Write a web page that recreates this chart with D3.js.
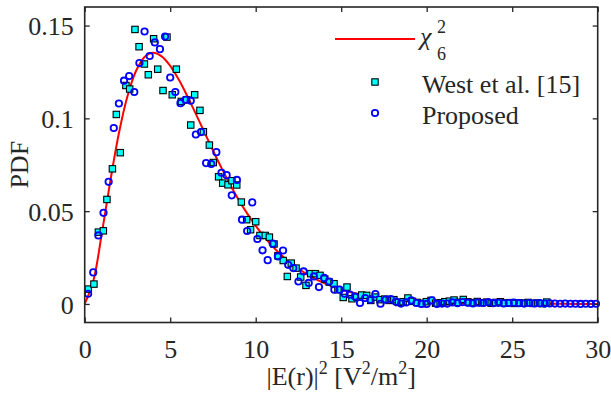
<!DOCTYPE html>
<html>
<head>
<meta charset="utf-8">
<script src="https://cdn.jsdelivr.net/npm/d3@7"></script>
<style>
  html, body { margin: 0; padding: 0; background: #fff; }
  svg { display: block; }
  text { font-family: "Liberation Serif", "Times New Roman", serif; fill: #262626; }
</style>
</head>
<body>
<svg id="chart" width="611" height="402"></svg>
<script>
// Theoretical chi-square (6 d.o.f.) density
const chiX = [0, 0.5, 1, 1.5, 2, 2.5, 3, 3.5, 4, 4.5, 5, 5.5, 6, 6.5, 7, 7.5, 8, 8.5, 9, 9.5, 10,
              11, 12, 13, 14, 15, 16, 17, 18, 19, 20, 22, 24, 26, 28, 30];
const chiY = [0, 0.0122, 0.0379, 0.0664, 0.0920, 0.1119, 0.1255, 0.1331, 0.1353, 0.1334, 0.1283,
              0.1209, 0.1120, 0.1024, 0.0925, 0.0827, 0.0733, 0.0644, 0.0562, 0.0488, 0.0421,
              0.0309, 0.0223, 0.0159, 0.0112, 0.0078, 0.0054, 0.0037, 0.0025, 0.0017, 0.0011,
              0.0005, 0.0002, 0.0001, 0.00004, 0.00002];

// West et al. [15] histogram
const westX = [0.21, 0.54, 0.80, 1.09, 1.30, 1.62, 1.85, 2.08, 2.41, 2.63, 2.94, 3.18, 3.49, 3.72,
               4.03, 4.27, 4.58, 4.81, 5.12, 5.36, 5.65, 5.96, 6.20, 6.43, 6.74, 6.94, 7.29, 7.52,
               7.83, 8.07, 8.38, 8.61, 8.89, 9.16, 9.47, 9.70, 10.00, 10.25, 10.56, 10.80, 11.07,
               11.30, 11.61, 11.85, 12.08, 12.36, 12.63, 12.94, 13.22, 13.49, 13.76, 14.04, 14.30,
               14.58, 14.81, 15.12, 15.34, 15.63, 15.91, 16.20, 16.49, 16.73, 17.00, 17.27, 17.54,
               17.81, 18.08, 18.35, 18.62, 18.90, 19.17, 19.44, 19.71, 19.98, 20.25, 20.52, 20.79,
               21.06, 21.33, 21.60, 21.87, 22.14, 22.41, 22.69, 22.96, 23.23, 23.50, 23.77, 24.04,
               24.31, 24.58, 24.85, 25.12, 25.39, 25.66, 25.93, 26.21, 26.48, 26.75, 27.02];
const westY = [0.0080, 0.0107, 0.0387, 0.0394, 0.0563, 0.0728, 0.1021, 0.0815, 0.1177, 0.1158,
               0.1479, 0.1386, 0.1293, 0.1235, 0.1429, 0.1265, 0.1150, 0.1438, 0.1127, 0.1265,
               0.1091, 0.1100, 0.0964, 0.1127, 0.1043, 0.0928, 0.0856, 0.0762, 0.0685, 0.0651,
               0.0642, 0.0664, 0.0641, 0.0549, 0.0454, 0.0400, 0.0443, 0.0369, 0.0369, 0.0360,
               0.0323, 0.0260, 0.0234, 0.0148, 0.0220, 0.0193, 0.0145, 0.0100, 0.0163, 0.0163,
               0.0154, 0.0134, 0.0118, 0.0109, 0.0077, 0.0035, 0.0091, 0.0028, 0.0037, 0.0048,
               0.0046, 0.0019, 0.0037, 0.0023, 0.0026, 0.0019, 0.0023, 0.0008, 0.0012, 0.0032,
               0.0014, 0.0008, 0.0003, 0.0012, 0.0019, 0.0004, 0.0006, 0.0012, 0.0015, 0.0021,
               0.0009, 0.0024, 0.0011, 0.0007, 0.0013, 0.0006, 0.0010, 0.0004, 0.0008, 0.0012,
               0.0005, 0.0007, 0.0003, 0.0006, 0.0004, 0.0008, 0.0003, 0.0005, 0.0002, 0.0010];

// Proposed method histogram
const propX = [0.2, 0.5, 0.8, 1.1, 1.4, 1.7, 2.0, 2.3, 2.6, 2.9, 3.2, 3.5, 3.8, 4.1, 4.4, 4.7,
               5.0, 5.3, 5.6, 5.9, 6.2, 6.5, 6.8, 7.1, 7.4, 7.7, 8.0, 8.3, 8.6, 8.9, 9.2, 9.5,
               9.8, 10.1, 10.4, 10.7, 11.0, 11.3, 11.6, 11.9, 12.2, 12.5, 12.8, 13.1, 13.4, 13.7,
               14.0, 14.3, 14.6, 14.9, 15.2, 15.5, 15.8, 16.1, 16.4, 16.7, 17.0, 17.3, 17.6, 17.9,
               18.2, 18.5, 18.8, 19.1, 19.4, 19.7, 20.0, 20.3, 20.6, 20.9, 21.2, 21.5, 21.8, 22.1,
               22.4, 22.7, 23.0, 23.3, 23.6, 23.9, 24.2, 24.5, 24.8, 25.1, 25.4, 25.7, 26.0, 26.3,
               26.6, 26.9, 27.2, 27.5, 27.8, 28.1, 28.4, 28.7, 29.0, 29.3, 29.6, 29.9];
const propY = [0.0055, 0.0170, 0.0369, 0.0491, 0.0658, 0.0948, 0.1080, 0.1203, 0.1228, 0.1142,
               0.1298, 0.1468, 0.1336, 0.1409, 0.1373, 0.1441, 0.1220, 0.1142, 0.1082, 0.1100,
               0.1095, 0.0913, 0.0926, 0.0759, 0.0754, 0.0818, 0.0707, 0.0694, 0.0585, 0.0668,
               0.0454, 0.0393, 0.0547, 0.0350, 0.0289, 0.0236, 0.0325, 0.0256, 0.0288, 0.0211,
               0.0193, 0.0121, 0.0175, 0.0113, 0.0148, 0.0091, 0.0140, 0.0121, 0.0077, 0.0077,
               0.0055, 0.0050, 0.0040, 0.0005, 0.0032, 0.0023, 0.0053, 0.0001, 0.0023, 0.0026,
               0.0012, 0.0002, 0.0008, 0.0019, 0.0005, 0.0000, 0.0000, 0.0019, 0.0000, 0.0002,
               0.0002, 0.0008, 0.0004, 0.0010, 0.0006, 0.0003, 0.0007, 0.0005, 0.0009, 0.0004,
               0.0006, 0.0003, 0.0005, 0.0007, 0.0004, 0.0002, 0.0005, 0.0003, 0.0004, 0.0002,
               0.0003, 0.0002, 0.0001, 0.0002, 0.0001, 0.0001, 0.0000, 0.0001, 0.0000, 0.0001];

const xTicks = [0, 5, 10, 15, 20, 25, 30];
const yTicks = [0, 0.05, 0.1, 0.15];
const yTickLabels = ["0", "0.05", "0.1", "0.15"];

const svg = d3.select("#chart");
const W = 611, H = 402;
const box = { left: 84.7, right: 597.7, top: 7, bottom: 322.5 };
const axisColor = "#262626";
const fontMain = "26px", fontSmall = "18px";

const x = d3.scaleLinear().domain([0, 30]).range([box.left, box.right]);
const y = d3.scaleLinear().domain([-0.01, 0.16]).range([box.bottom, box.top]);

svg.append("rect").attr("width", W).attr("height", H).attr("fill", "#fff");

// chi-square curve
const line = d3.line().x((d, i) => x(chiX[i])).y((d, i) => y(chiY[i])).curve(d3.curveCatmullRom);
svg.append("path").datum(chiY).attr("d", line)
  .attr("fill", "none").attr("stroke", "#ff0000").attr("stroke-width", 2);

// West et al. squares
const sq = 6.4;
svg.append("g").selectAll("rect").data(westY).join("rect")
  .attr("x", (d, i) => x(westX[i]) - sq / 2)
  .attr("y", d => y(d) - sq / 2)
  .attr("width", sq).attr("height", sq)
  .attr("fill", "#00ffff").attr("stroke", "#000").attr("stroke-width", 1.1);

// Proposed circles
const cr = 3.2;
svg.append("g").selectAll("circle").data(propY).join("circle")
  .attr("cx", (d, i) => x(propX[i]))
  .attr("cy", d => y(d))
  .attr("r", cr)
  .attr("fill", "none").attr("stroke", "#0000ff").attr("stroke-width", 1.8);

// Axes with inward ticks on all four sides
const tickLen = 5;
const axB = d3.axisBottom(x).tickValues(xTicks).tickSizeInner(-tickLen).tickSizeOuter(0).tickPadding(17);
const axT = d3.axisTop(x).tickValues(xTicks).tickSizeInner(-tickLen).tickSizeOuter(0).tickFormat("");
const axL = d3.axisLeft(y).tickValues(yTicks).tickSizeInner(-tickLen).tickSizeOuter(0).tickPadding(11)
  .tickFormat((d, i) => yTickLabels[i]);
const axR = d3.axisRight(y).tickValues(yTicks).tickSizeInner(-tickLen).tickSizeOuter(0).tickFormat("");

function styleAxis(g) {
  g.select(".domain").remove();
  g.selectAll(".tick line").attr("stroke", axisColor).attr("stroke-width", 1.3);
  g.selectAll(".tick text").attr("fill", axisColor)
    .style("font-family", '"Liberation Serif", "Times New Roman", serif').style("font-size", fontMain);
}
svg.append("g").attr("transform", `translate(0,${box.bottom})`).call(axB).call(styleAxis);
svg.append("g").attr("transform", `translate(0,${box.top})`).call(axT).call(styleAxis);
svg.append("g").attr("transform", `translate(${box.left},0)`).call(axL).call(styleAxis)
  .selectAll(".tick text").attr("dy", "0.36em");
svg.append("g").attr("transform", `translate(${box.right},0)`).call(axR).call(styleAxis);

svg.append("rect")
  .attr("x", box.left).attr("y", box.top)
  .attr("width", box.right - box.left).attr("height", box.bottom - box.top)
  .attr("fill", "none").attr("stroke", axisColor).attr("stroke-width", 1.6);

// Axis titles
const xt = svg.append("text").attr("x", (box.left + box.right) / 2).attr("y", 385)
  .attr("text-anchor", "middle").style("font-size", fontMain);
xt.append("tspan").text("|E(r)|");
xt.append("tspan").text("2").attr("dy", -11).style("font-size", fontSmall);
xt.append("tspan").text(" [V").attr("dy", 11);
xt.append("tspan").text("2").attr("dy", -11).style("font-size", fontSmall);
xt.append("tspan").text("/m").attr("dy", 11);
xt.append("tspan").text("2").attr("dy", -11).style("font-size", fontSmall);
xt.append("tspan").text("]").attr("dy", 11);

svg.append("text").attr("transform", `translate(28,${(box.top + box.bottom) / 2}) rotate(-90)`)
  .attr("text-anchor", "middle").style("font-size", fontMain).text("PDF");

// Legend
const lg = svg.append("g");
lg.append("line").attr("x1", 335).attr("x2", 415).attr("y1", 39).attr("y2", 39)
  .attr("stroke", "#ff0000").attr("stroke-width", 2);
lg.append("text").attr("x", 420).attr("y", 45).style("font-size", fontMain).style("font-style", "italic").text("χ");
lg.append("text").attr("x", 437).attr("y", 33).style("font-size", fontSmall).text("2");
lg.append("text").attr("x", 437).attr("y", 60).style("font-size", fontSmall).text("6");

lg.append("rect").attr("x", 375 - sq / 2).attr("y", 82 - sq / 2).attr("width", sq).attr("height", sq)
  .attr("fill", "#00ffff").attr("stroke", "#000").attr("stroke-width", 1.1);
lg.append("text").attr("x", 422).attr("y", 93).style("font-size", fontMain).text("West et al. [15]");

lg.append("circle").attr("cx", 375).attr("cy", 113).attr("r", cr)
  .attr("fill", "none").attr("stroke", "#0000ff").attr("stroke-width", 1.8);
lg.append("text").attr("x", 422).attr("y", 124).style("font-size", fontMain).text("Proposed");
</script>
</body>
</html>
